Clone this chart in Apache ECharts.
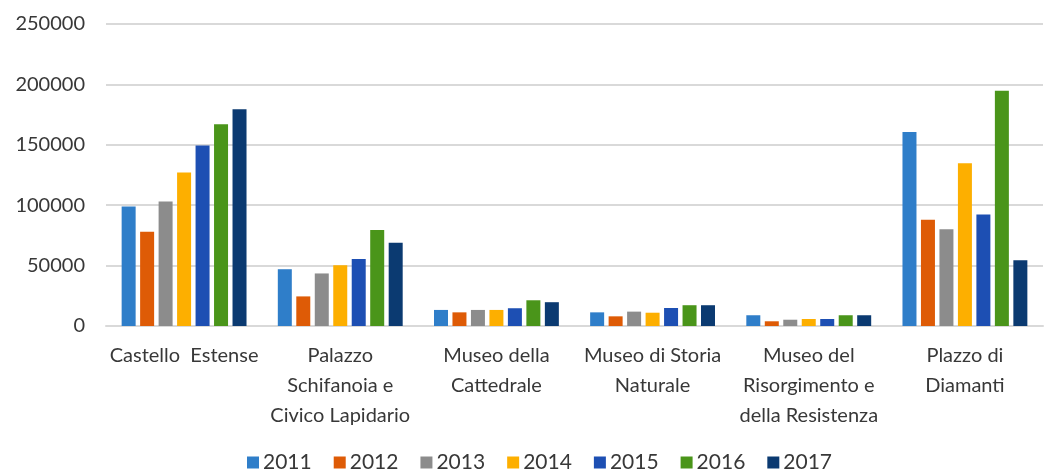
<!DOCTYPE html>
<html>
<head>
<meta charset="utf-8">
<script src="https://cdn.jsdelivr.net/npm/echarts@6/dist/echarts.min.js"></script>
<style>
html, body { margin: 0; padding: 0; background: #fff; }
#chart { width: 1045px; height: 473px; }
</style>
</head>
<body>
<div id="chart"></div>
<script>
// categorie (musei)
var categories = [
    'Castello  Estense',
    'Palazzo\nSchifanoia e\nCivico Lapidario',
    'Museo della\nCattedrale',
    'Museo di Storia\nNaturale',
    'Museo del\nRisorgimento e\ndella Resistenza',
    'Plazzo di\nDiamanti'
];
var years = ['2011', '2012', '2013', '2014', '2015', '2016', '2017'];
var colors = ['#2f7ec9', '#de5b06', '#8c8c8c', '#fdaf00', '#1d4fb3', '#4a951a', '#0b3a71'];

// visitatori per anno
var v2011 = [99000, 47000, 13300, 11300, 8900, 160500];
var v2012 = [78000, 24500, 11300, 8000, 3900, 88000];
var v2013 = [103000, 43500, 13300, 11900, 5200, 80000];
var v2014 = [127000, 50300, 13300, 11000, 5800, 134700];
var v2015 = [149500, 55500, 14700, 14900, 5800, 92300];
var v2016 = [167000, 79500, 21300, 17200, 8900, 194700];
var v2017 = [179500, 69000, 19700, 17200, 8900, 54500];
var values = [v2011, v2012, v2013, v2014, v2015, v2016, v2017];

var yTicks = [0, 50000, 100000, 150000, 200000, 250000];

var font = 'Lato, "Open Sans", sans-serif';
var txt = '#383838';

var series = years.map(function (y, i) {
    return {
        name: y,
        type: 'bar',
        data: values[i],
        barWidth: 14,
        barGap: '32%',
        itemStyle: { color: colors[i] }
    };
});

echarts.init(document.getElementById('chart')).setOption({
    animation: false,
    grid: { left: 106, right: 2, top: 24, bottom: 147 },
    legend: {
        data: years,
        left: 242,
        bottom: -5,
        itemWidth: 12,
        itemHeight: 12,
        itemGap: 22,
        icon: 'rect',
        textStyle: { fontFamily: font, fontSize: 21, color: txt, padding: [0, 0, 0, -1] }
    },
    xAxis: {
        type: 'category',
        data: categories,
        axisTick: { show: false },
        axisLine: { lineStyle: { color: '#d9d9d9', width: 2 } },
        axisLabel: {
            interval: 0,
            fontFamily: font,
            fontSize: 20,
            color: txt,
            lineHeight: 30,
            margin: 15
        }
    },
    yAxis: {
        type: 'value',
        min: yTicks[0],
        max: yTicks[yTicks.length - 1],
        interval: 50000,
        axisLine: { show: false },
        axisTick: { show: false },
        splitLine: { lineStyle: { color: '#d9d9d9', width: 2 } },
        axisLabel: {
            fontFamily: font,
            fontSize: 20,
            color: txt,
            margin: 21,
            formatter: function (v) { return String(v); }
        }
    },
    series: series
});
</script>
</body>
</html>
